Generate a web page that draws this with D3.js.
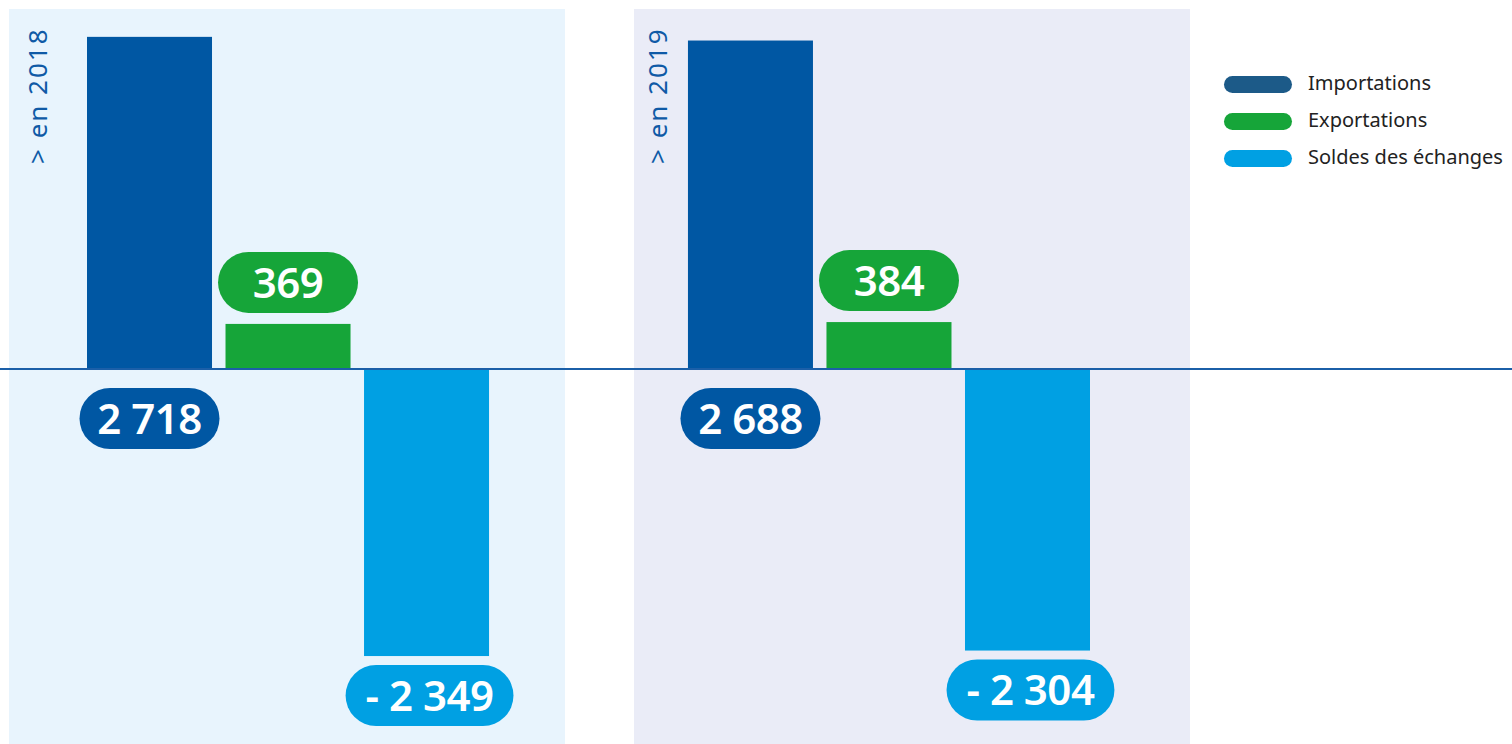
<!DOCTYPE html>
<html>
<head>
<meta charset="utf-8">
<script src="https://cdn.jsdelivr.net/npm/d3@7"></script>
<style>
  html, body { margin: 0; padding: 0; background: #fff; }
  svg { display: block; font-family: "Noto Sans", "Open Sans", sans-serif; }
</style>
</head>
<body>
<div id="chart"></div>
<script>
// données
const years = ['2018', '2019'];
const series = ['Importations', 'Exportations', 'Soldes des échanges'];
const importations = [2718, 2688];
const exportations = [369, 384];
const soldes = [-2349, -2304];
const valueLabels = [['2 718', '369', '- 2 349'], ['2 688', '384', '- 2 304']];

const width = 1512, height = 744;

const barColor = d3.scaleOrdinal().domain(series).range(['#0057a3', '#16a539', '#00a0e3']);
const legendColor = d3.scaleOrdinal().domain(series).range(['#1c5a88', '#16a539', '#00a0e3']);
const panelColor = d3.scaleOrdinal().domain(years).range(['#e8f4fd', '#eaecf7']);

const svg = d3.select('#chart').append('svg')
    .attr('width', width)
    .attr('height', height);

// échelles
const y = d3.scaleLinear().domain([-3000, 3000]).range([735.6, 2.4]);
const xPanel = d3.scaleBand().domain(years).range([9, 1190]).paddingInner(0.1104);
const xGroup = d3.scaleBand().domain(years).range([87, 1090]).paddingInner(0.331);
const xBar = d3.scaleBand().domain(series).range([0, xGroup.bandwidth()]).paddingInner(0.0975);

// fonds des panneaux
svg.selectAll('rect.panel')
    .data(years)
    .enter()
    .append('rect')
    .attr('class', 'panel')
    .attr('x', d => xPanel(d))
    .attr('y', 9)
    .attr('width', xPanel.bandwidth())
    .attr('height', height - 9)
    .attr('fill', d => panelColor(d));

// titre vertical
svg.selectAll('text.year')
    .data(years)
    .enter()
    .append('text')
    .attr('class', 'year')
    .attr('transform', (d, i) => `translate(${xPanel(d) + (i === 0 ? 38 : 33)},164) rotate(-90)`)
    .attr('fill', '#0f5aa6')
    .style('font-size', '26px')
    .style('letter-spacing', '2px')
    .text(d => `> en ${d}`);

const data = [];
years.forEach((yr, i) => {
    [importations[i], exportations[i], soldes[i]].forEach((v, j) => {
        data.push({ year: yr, serie: series[j], value: v, label: valueLabels[i][j] });
    });
});

// barres
svg.selectAll('rect.bar')
    .data(data)
    .enter()
    .append('rect')
    .attr('class', 'bar')
    .attr('x', d => xGroup(d.year) + xBar(d.serie))
    .attr('y', d => y(Math.max(0, d.value)))
    .attr('width', xBar.bandwidth())
    .attr('height', d => Math.abs(y(d.value) - y(0)))
    .attr('fill', d => barColor(d.serie));

// ligne zéro
svg.append('line')
    .attr('x1', 0)
    .attr('x2', width)
    .attr('y1', y(0))
    .attr('y2', y(0))
    .attr('stroke', '#1b5fa8')
    .attr('stroke-width', 2);

// étiquettes en pastille
const pillH = 61;
const labels = svg.selectAll('g.pill')
    .data(data)
    .enter()
    .append('g')
    .attr('class', 'pill');

labels.each(function (d) {
    const g = d3.select(this);
    const cx = xGroup(d.year) + xBar(d.serie) + xBar.bandwidth() / 2 + (d.value < 0 ? 3 : 0);
    let top;
    if (d.serie === 'Importations') top = y(0) + 19;
    else if (d.value >= 0) top = y(d.value) - 11 - pillH;
    else top = y(d.value) + 9;

    const rect = g.append('rect').attr('fill', barColor(d.serie));
    const txt = g.append('text')
        .attr('x', cx)
        .attr('y', top + pillH / 2)
        .attr('dy', '0.36em')
        .attr('text-anchor', 'middle')
        .attr('fill', '#fff')
        .style('font-size', '42px')
        .style('font-weight', 600)
        .style('letter-spacing', '-0.5px')
        .text(d.label);
    const pad = d.value < 0 ? 40 : 30;
    const w = Math.max(140, txt.node().getComputedTextLength() + pad);
    rect.attr('x', cx - w / 2)
        .attr('y', top)
        .attr('width', w)
        .attr('height', pillH)
        .attr('rx', pillH / 2);
});

// légende
const legend = svg.selectAll('g.legend')
    .data(series)
    .enter()
    .append('g')
    .attr('class', 'legend')
    .attr('transform', (d, i) => `translate(1224,${84.5 + i * 37})`);

legend.append('rect')
    .attr('x', 0)
    .attr('y', -8.5)
    .attr('width', 68)
    .attr('height', 17)
    .attr('rx', 8.5)
    .attr('fill', d => legendColor(d));

legend.append('text')
    .attr('x', 84)
    .attr('y', -2)
    .attr('dy', '0.35em')
    .attr('fill', '#222')
    .style('font-size', '20px')
    .text(d => d);
</script>
</body>
</html>
